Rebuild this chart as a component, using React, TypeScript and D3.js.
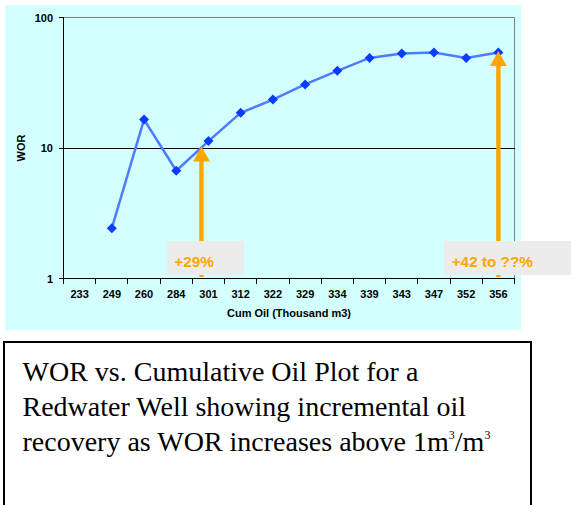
import React from "react";
import * as d3 from "d3";

const categories = ["233", "249", "260", "284", "301", "312", "322", "329", "334", "339", "343", "347", "352", "356"];
const worValues: (number | null)[] = [null, 2.43, 16.5, 6.7, 11.3, 18.6, 23.5, 30.7, 39, 49, 53, 54, 49, 54];
const yTicks = [1, 10, 100];
const arrowCats = ["301", "356"];
const arrowShift = [-7, 0];
const arrowTops = [10, 54];
const arrowLabels = ["+29%", "+42 to ??%"];
const captionLines = ["WOR vs. Cumulative Oil Plot for a", "Redwater Well showing incremental oil"];

const W = 571;
const H = 505;
const left = 63.5, right = 514.5, top = 17.5, bottom = 278.5;
const ORANGE = "#FFA500";
const FONT = "'Liberation Sans', Arial, sans-serif";

export default function App() {
  const x = d3.scaleBand<string>().domain(categories).range([left, right]).padding(0);
  const y = d3.scaleLog().domain([1, 100]).range([bottom, top]);
  const cx = (c: string) => (x(c) as number) + x.bandwidth() / 2;

  const pts = categories
    .map((c, i) => ({ c, v: worValues[i] }))
    .filter((d) => d.v != null) as { c: string; v: number }[];
  const line = d3.line<{ c: string; v: number }>().x((d) => cx(d.c)).y((d) => y(d.v));

  const boundaries = categories.map((c) => x(c) as number).concat([right]);

  return (
    <svg width={W} height={H} style={{ position: "absolute", left: 0, top: 0, display: "block" }}>
      <rect x={0} y={0} width={W} height={H} fill="#fff" />
      <rect x={5} y={5} width={516} height={325} fill="#D3FFFF" />
      <g shapeRendering="crispEdges">
        <line x1={left} x2={right} y1={top} y2={top} stroke="#808080" strokeWidth={1} />
        <line x1={right} x2={right} y1={top} y2={bottom} stroke="#808080" strokeWidth={1} />
        <line x1={left} x2={right} y1={y(10)} y2={y(10)} stroke="#000" strokeWidth={1} />
        <line x1={left} x2={left} y1={top} y2={bottom} stroke="#000" strokeWidth={1} />
        <line x1={left} x2={right} y1={bottom} y2={bottom} stroke="#000" strokeWidth={1} />
        {yTicks.map((t) => (
          <line key={t} x1={left - 5} x2={left} y1={y(t)} y2={y(t)} stroke="#000" />
        ))}
        {boundaries.map((b, i) => (
          <line key={i} x1={b} x2={b} y1={bottom} y2={bottom + 5} stroke="#000" />
        ))}
      </g>
      {yTicks.map((t) => (
        <text key={t} x={53} y={y(t) + 4} textAnchor="end" fontFamily={FONT} fontWeight="bold" fontSize={11}>
          {t}
        </text>
      ))}
      {categories.map((c) => (
        <text key={c} x={cx(c)} y={297.5} textAnchor="middle" fontFamily={FONT} fontWeight="bold" fontSize={11}>
          {c}
        </text>
      ))}
      <text x={(left + right) / 2} y={317} textAnchor="middle" fontFamily={FONT} fontWeight="bold" fontSize={11}>
        Cum Oil (Thousand m3)
      </text>
      <text transform={`translate(25,${y(10)}) rotate(-90)`} textAnchor="middle" fontFamily={FONT} fontWeight="bold" fontSize={11}>
        WOR
      </text>
      <path d={line(pts) || ""} fill="none" stroke="#4D7CFF" strokeWidth={2.5} />
      {pts.map((d) => (
        <path
          key={d.c}
          d={`M${cx(d.c)},${y(d.v) - 5}L${cx(d.c) + 5},${y(d.v)}L${cx(d.c)},${y(d.v) + 5}L${cx(d.c) - 5},${y(d.v)}Z`}
          fill="#0A3CFF"
        />
      ))}
      {arrowCats.map((c, i) => {
        const ax = cx(c) + arrowShift[i];
        const tip = y(arrowTops[i]) - 1.5;
        return (
          <g key={c}>
            <rect x={ax - 2.2} y={tip + 14} width={4.4} height={277 - tip - 14} fill={ORANGE} />
            <path d={`M${ax},${tip}L${ax + 8.5},${tip + 15}L${ax - 8.5},${tip + 15}Z`} fill={ORANGE} />
          </g>
        );
      })}
      <rect x={167.3} y={241} width={76.5} height={34} fill="#ECECEC" />
      <text x={174.3} y={267} fontFamily={FONT} fontWeight="bold" fontSize={15.3} fill={ORANGE}>
        {arrowLabels[0]}
      </text>
      <rect x={444} y={241} width={130} height={34} fill="#ECECEC" />
      <text x={451.7} y={267} fontFamily={FONT} fontWeight="bold" fontSize={15.3} fill={ORANGE}>
        {arrowLabels[1]}
      </text>
      <rect x={4} y={342} width={527} height={200} fill="#fff" stroke="#000" strokeWidth={2} />
      <g fontFamily="'Liberation Serif', 'Times New Roman', serif" fontSize={28} fill="#000">
        <text x={22.5} y={381}>{captionLines[0]}</text>
        <text x={22.5} y={416}>{captionLines[1]}</text>
        <text x={22.5} y={451}>
          recovery as WOR increases above 1m
          <tspan fontSize={12} dy={-12}>3</tspan>
          <tspan dy={12}>/m</tspan>
          <tspan fontSize={12} dy={-12}>3</tspan>
        </text>
      </g>
    </svg>
  );
}
